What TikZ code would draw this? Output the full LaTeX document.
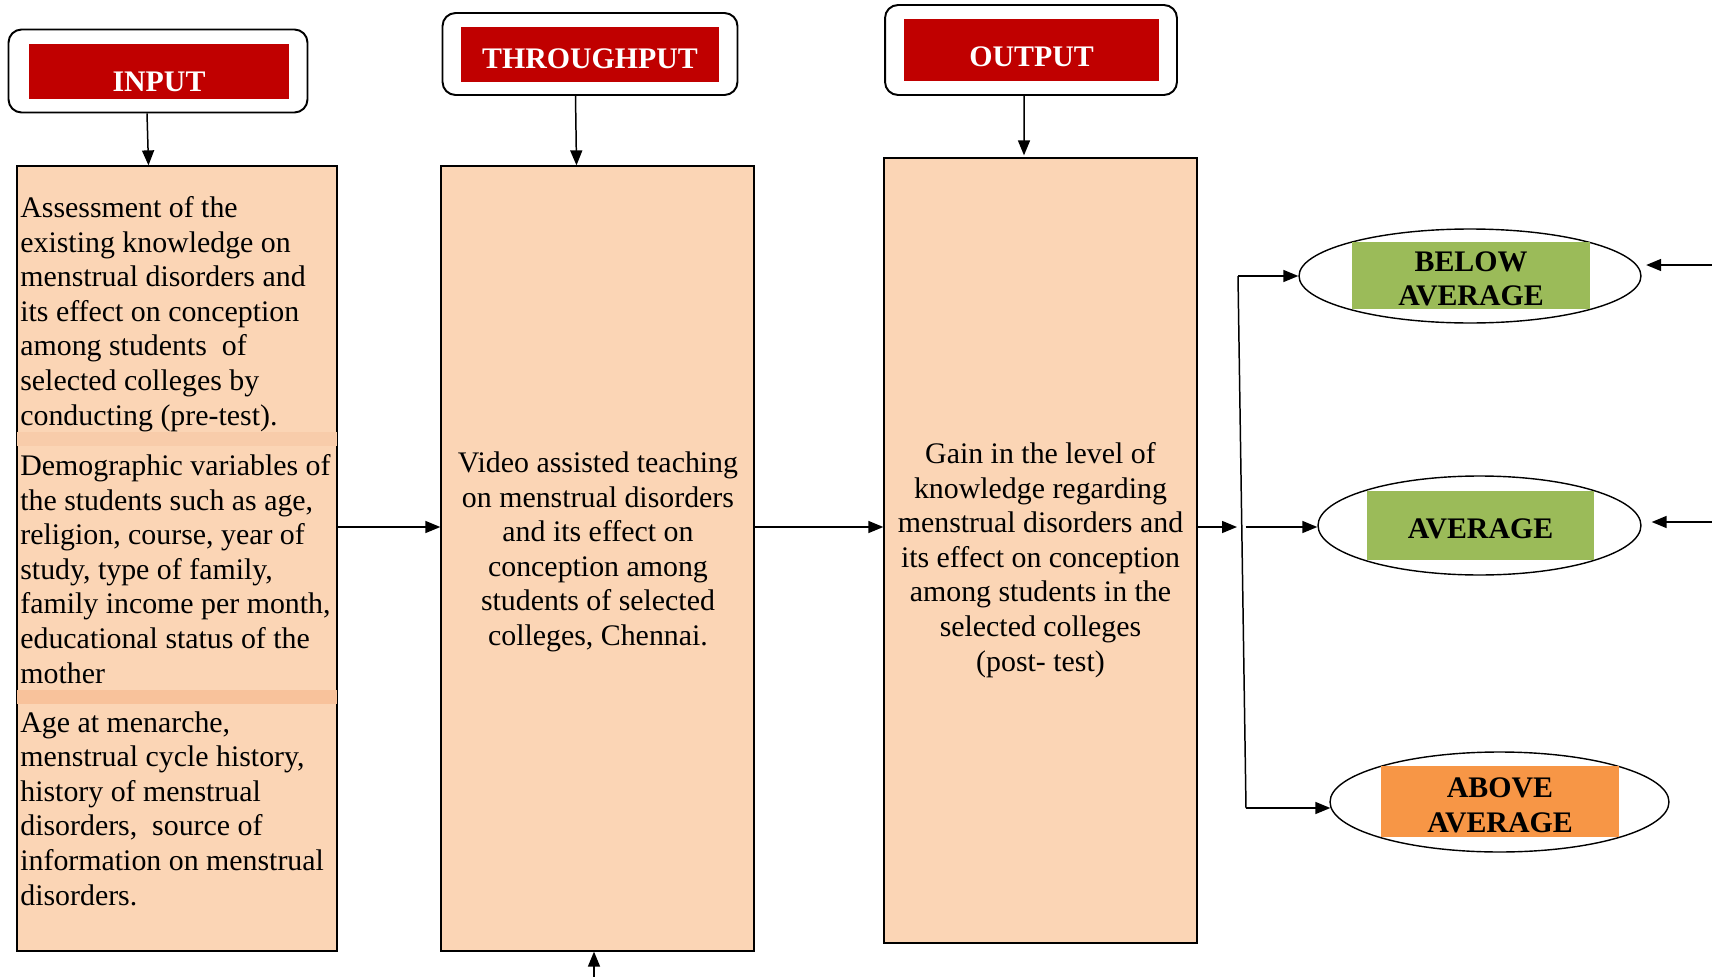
\documentclass[tikz,border=0pt]{standalone}
\usepackage{fontspec}
\setmainfont{Liberation Serif}
\usetikzlibrary{shapes.geometric,arrows.meta}

\definecolor{headred}{HTML}{C00000}
\definecolor{peach}{HTML}{FBD5B5}
\definecolor{bandA}{HTML}{F8CCAA}
\definecolor{bandB}{HTML}{F8C29B}
\definecolor{lvlgreen}{HTML}{9BBB59}
\definecolor{lvlorange}{HTML}{F79646}

\tikzset{
  headframe/.style={draw,line width=1.1pt,rounded corners=0.26cm,inner sep=0pt},
  headlbl/.style={fill=headred,text=white,inner sep=0pt,text depth=0pt,font=\fontsize{17}{20}\selectfont\bfseries},
  bodybox/.style={draw,fill=peach,line width=0.8pt,inner sep=0pt},
  bodytext/.style={inner sep=0pt,align=left,font=\fontsize{17}{19.65}\selectfont},
  lvl/.style={draw,ellipse,line width=0.8pt,inner sep=0pt},
  lvllbl/.style={inner sep=0pt,align=center,text depth=0pt,font=\fontsize{17}{19.8}\selectfont\bfseries},
  arr/.style={line width=0.85pt,-{Triangle[length=0.3cm,width=0.24cm]}}
}

\begin{document}
\begin{tikzpicture}[x=0.02cm,y=-0.02cm]
    \useasboundingbox (0,0) rectangle (1712,977);

    % headings
    \node[headframe,minimum width=5.98cm,minimum height=1.66cm] (inframe) at (158,71) {};
    \node[headlbl,text height=0.79cm,minimum width=5.22cm,minimum height=1.12cm] (inhead) at (159,71.5) {INPUT};
    \node[headframe,minimum width=5.9cm,minimum height=1.64cm] (thrframe) at (590,54) {};
    \node[headlbl,text height=0.57cm,minimum width=5.16cm,minimum height=1.1cm] (thrhead) at (590,54.5) {THROUGHPUT};
    \node[headframe,minimum width=5.84cm,minimum height=1.8cm] (outframe) at (1031,50) {};
    \node[headlbl,text height=0.655cm,minimum width=5.1cm,minimum height=1.26cm] (outhead) at (1031.5,50) {OUTPUT};

    % main boxes
    \node[bodybox,minimum width=6.4cm,minimum height=15.7cm] (inbox) at (177,558.5) {};
    \fill[bandA] ([xshift=0.4pt]inbox.west |- 0,432) rectangle ([xshift=-0.4pt]inbox.east |- 0,446);
    \fill[bandB] ([xshift=0.4pt]inbox.west |- 0,690) rectangle ([xshift=-0.4pt]inbox.east |- 0,704);
    \node[bodybox,minimum width=6.26cm,minimum height=15.7cm] (thrbox) at (597.5,558.5) {};
    \node[bodybox,minimum width=6.26cm,minimum height=15.7cm] (outbox) at (1040.5,550.5) {};

    % texts sit on the baseline of their last line
    \node[bodytext,anchor=base west] (intxta) at (20,425) {Assessment of the\\existing knowledge on\\menstrual disorders and\\its effect on conception\\among students\ \ of\\selected colleges by\\conducting (pre-test).};
    \node[bodytext,anchor=base west] (intxtb) at (20,683) {Demographic variables of\\the students such as age,\\religion, course, year of\\study, type of family,\\family income per month,\\educational status of the\\mother};
    \node[bodytext,anchor=base west] (intxtc) at (20,905) {Age at menarche,\\menstrual cycle history,\\history of menstrual\\disorders,\ \ source of\\information on menstrual\\disorders.};
    \node[bodytext,align=center,anchor=base] (thrtxt) at (598,645.5) {Video assisted teaching\\on menstrual disorders\\and its effect on\\conception among\\students of selected\\colleges, Chennai.};
    \node[bodytext,align=center,anchor=base] (outtxt) at (1040.5,671) {Gain in the level of\\knowledge regarding\\menstrual disorders and\\its effect on conception\\among students in the\\selected colleges\\(post- test)};

    % levels
    \node[lvl,minimum width=6.84cm,minimum height=1.88cm] (below) at (1470,276) {};
    \node[lvllbl,text height=1.22cm,fill=lvlgreen,minimum width=4.76cm,minimum height=1.34cm] (belowlbl) at (1471,275.5) {BELOW\\AVERAGE};
    \node[lvl,minimum width=6.46cm,minimum height=1.98cm] (avg) at (1479.5,525.5) {};
    \node[lvllbl,text height=0.525cm,fill=lvlgreen,minimum width=4.54cm,minimum height=1.38cm] (avglbl) at (1480.5,525.5) {AVERAGE};
    \node[lvl,minimum width=6.78cm,minimum height=2cm] (above) at (1499.5,802) {};
    \node[lvllbl,text height=1.22cm,fill=lvlorange,minimum width=4.76cm,minimum height=1.42cm] (abovelbl) at (1500,801.5) {ABOVE\\AVERAGE};

    % arrows
    \draw[arr] ([xshift=-0.22cm]inframe.south) -- ([xshift=-0.57cm]inbox.north);
    \draw[arr] ([xshift=-0.29cm]thrframe.south) -- ([xshift=-0.42cm]thrbox.north);
    \draw[arr] ([xshift=-0.14cm]outframe.south) -- ([xshift=-0.33cm,yshift=0.04cm]outbox.north);
    \draw[arr] (inbox.east |- 0,527) -- (thrbox.west |- 0,527);
    \draw[arr] (thrbox.east |- 0,527) -- (outbox.west |- 0,527);

    \coordinate (jn) at (1237,527);
    \coordinate (jo) at (1245.5,527);
    \coordinate (jt) at (1238,276);
    \coordinate (jb) at (1246,808);
    \draw[arr] (outbox.east |- jn) -- (jn);
    \draw[arr] (jo) -- (avg.west |- jo);
    \draw[line width=0.85pt] (jt) -- (jb);
    \draw[arr] (jt) -- (below.west);
    \draw[arr] (jb) -- ([xshift=0.02cm]above.west |- jb);

    \coordinate (ra) at (1712,265);
    \coordinate (rb) at (1712,522);
    \draw[arr] (ra) -- ([xshift=0.09cm]below.east |- ra);
    \draw[arr] (rb) -- ([xshift=0.2cm]avg.east |- rb);

    \coordinate (bt) at (594,977);
    \draw[arr] (bt) -- (bt |- thrbox.south);
\end{tikzpicture}
\end{document}
